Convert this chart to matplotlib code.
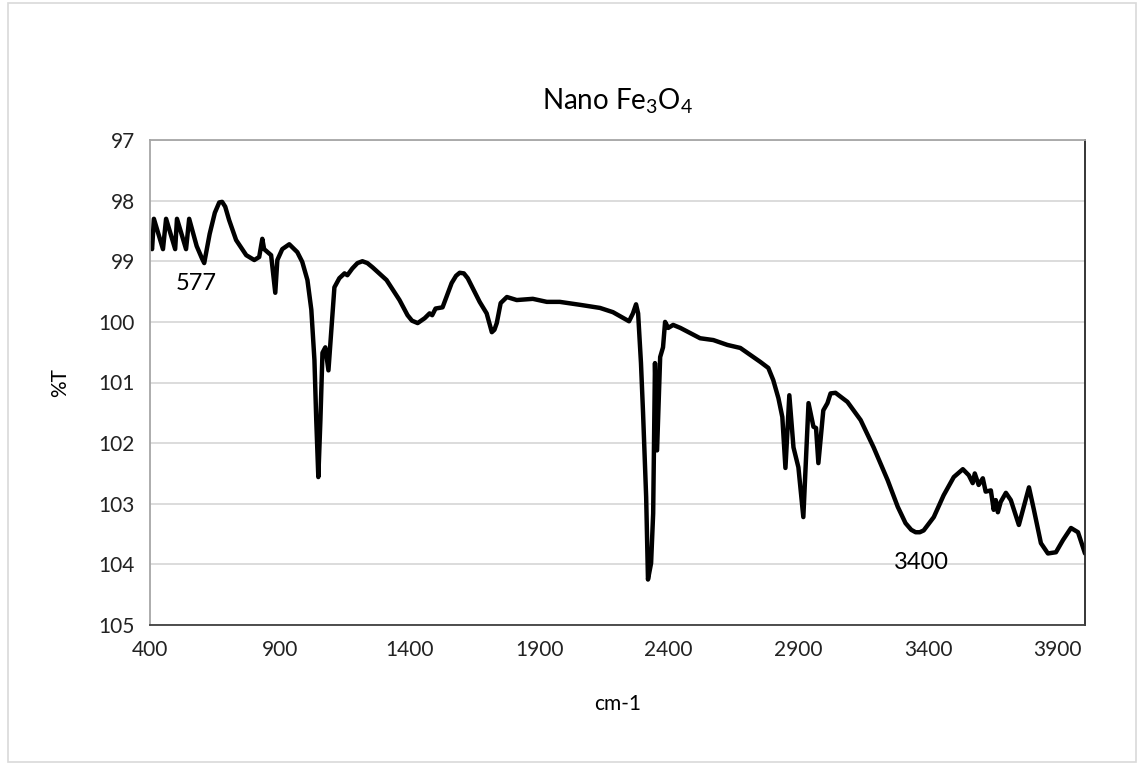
import numpy as np
import matplotlib.pyplot as plt
from matplotlib.patches import Rectangle

plt.rcParams['font.family'] = ['Lato', 'DejaVu Sans']
plt.rcParams['mathtext.fontset'] = 'custom'
plt.rcParams['mathtext.rm'] = 'Lato'

# Espectro FTIR do Fe3O4 (número de onda em cm-1, transmitância em %)
wavenumber = [
    400, 408, 415, 450, 462, 497, 504, 539, 551, 580, 600, 609, 630, 650, 667,
    678, 690, 705, 732, 771, 802, 821, 833, 840, 867, 883, 891, 910, 937, 968,
    987, 1007, 1022, 1034, 1041, 1049, 1057, 1065, 1076, 1088, 1099, 1111,
    1130, 1150, 1161, 1180, 1200, 1219, 1238, 1258, 1312, 1362, 1393, 1410,
    1432, 1459, 1478, 1488, 1501, 1528, 1563, 1580, 1594, 1610, 1625, 1671,
    1698, 1710, 1718, 1728, 1737, 1752, 1776, 1814, 1876, 1930, 1980, 2060,
    2135, 2185, 2247, 2262, 2274, 2282, 2293, 2301, 2313, 2320, 2332, 2340,
    2347, 2355, 2367, 2378, 2386, 2398, 2417, 2445, 2521, 2572, 2626, 2676,
    2703, 2753, 2784, 2803, 2823, 2838, 2850, 2865, 2881, 2900, 2919, 2939,
    2958, 2968, 2977, 2996, 3012, 3024, 3043, 3089, 3140, 3190, 3244, 3283,
    3313, 3335, 3352, 3368, 3383, 3422, 3460, 3499, 3534, 3557, 3572, 3580,
    3595, 3611, 3622, 3642, 3653, 3661, 3669, 3680, 3700, 3719, 3750, 3769,
    3789, 3808, 3835, 3862, 3893, 3920, 3951, 3978, 4005,
]
transmittance = [
    98.7, 98.8, 98.3, 98.8, 98.3, 98.8, 98.3, 98.8, 98.3, 98.75, 98.95, 99.03,
    98.55, 98.2, 98.03, 98.02, 98.1, 98.32, 98.65, 98.9, 98.98, 98.93, 98.63,
    98.8, 98.9, 99.52, 98.98, 98.8, 98.72, 98.85, 99.01, 99.31, 99.8, 100.63,
    101.62, 102.56, 101.62, 100.51, 100.42, 100.8, 100.14, 99.43, 99.28, 99.2,
    99.23, 99.12, 99.03, 99.0, 99.03, 99.1, 99.31, 99.64, 99.89, 99.98, 100.02,
    99.94, 99.86, 99.89, 99.78, 99.76, 99.36, 99.24, 99.19, 99.2, 99.28,
    99.67, 99.86, 100.05, 100.17, 100.13, 100.02, 99.69, 99.59, 99.64, 99.62,
    99.67, 99.67, 99.72, 99.77, 99.84, 99.99, 99.86, 99.71, 99.86, 100.68,
    101.5, 102.89, 104.25, 103.98, 103.16, 100.68, 102.12, 100.58, 100.42,
    100.0, 100.1, 100.05, 100.1, 100.27, 100.3, 100.38, 100.43, 100.51, 100.66,
    100.76, 100.96, 101.26, 101.57, 102.41, 101.21, 102.07, 102.4, 103.22,
    101.34, 101.73, 101.75, 102.33, 101.46, 101.34, 101.18, 101.17, 101.32,
    101.62, 102.07, 102.61, 103.05, 103.32, 103.43, 103.47, 103.47, 103.44,
    103.22, 102.86, 102.56, 102.43, 102.53, 102.66, 102.5, 102.69, 102.58,
    102.8, 102.78, 103.1, 102.94, 103.14, 102.97, 102.82, 102.94, 103.35,
    103.05, 102.73, 103.1, 103.65, 103.82, 103.8, 103.6, 103.4, 103.47, 103.82,
]

fig = plt.figure(figsize=(11.4, 7.65), dpi=100)
ax = fig.add_axes([150 / 1140, 1 - 625 / 765, 935 / 1140, 485 / 765])

ax.plot(wavenumber, transmittance, color='black', linewidth=3.2,
        solid_joinstyle='round', solid_capstyle='round')

ax.set_xlim(400, 4005)
ax.set_ylim(105, 97)
ax.set_xticks(np.arange(400, 4001, 500))
ax.set_yticks(np.arange(97, 106, 1))
ax.tick_params(length=0, labelsize=15, pad=11, colors='#222222')
ax.grid(axis='y', color='#d9d9d9', linewidth=1.3)
ax.set_axisbelow(True)

ax.spines['left'].set_color('#a6a6a6')
ax.spines['top'].set_color('#a6a6a6')
ax.spines['right'].set_color('#262626')
ax.spines['bottom'].set_color('#404040')
for s in ax.spines.values():
    s.set_linewidth(1.3)

ax.set_title('Nano Fe$_3$O$_4$', fontsize=20, pad=22)
ax.set_xlabel('cm-1', fontsize=15, labelpad=24)
ax.set_ylabel('%T', fontsize=15, labelpad=20)

# Anotações dos picos
ax.text(577, 99.37, '577', fontsize=17, ha='center', va='center')
ax.text(3375, 103.97, '3400', fontsize=17, ha='center', va='center')

# Moldura externa do gráfico
fig.patches.append(Rectangle((8 / 1140, 3 / 765), 1128 / 1140, 759 / 765,
                             transform=fig.transFigure, fill=False,
                             edgecolor='#d9d9d9', linewidth=1.2))

fig.savefig('out.png', dpi=100)
